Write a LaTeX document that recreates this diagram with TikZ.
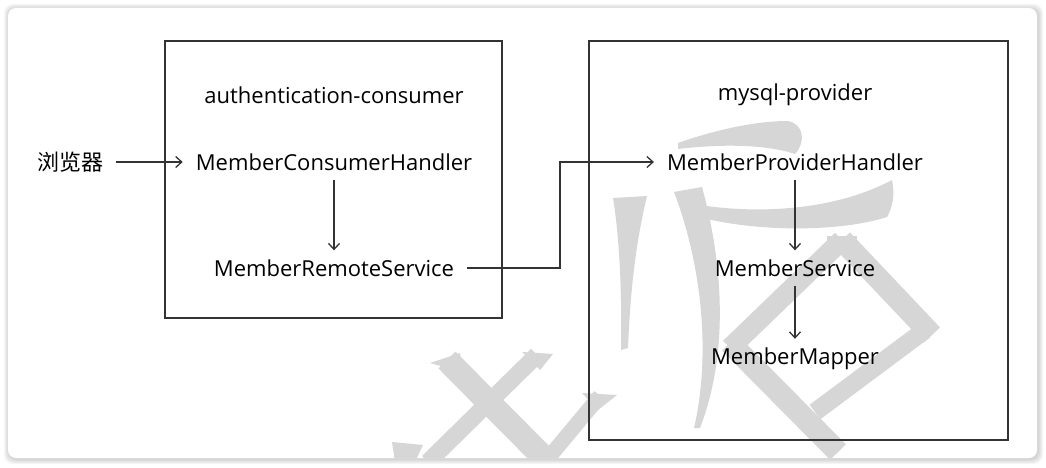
\documentclass[tikz,border=0pt]{standalone}
\usepackage{fontspec}
\setmainfont{Open Sans}
\newfontfamily\cjk{Noto Sans CJK SC}
\usetikzlibrary{arrows.meta}

\begin{document}
\begin{tikzpicture}[x=1pt, y=-1pt,
        txt/.style={inner xsep=13pt, inner ysep=9pt, font=\fontsize{22}{26}\selectfont, text=black},
        boxline/.style={draw=black!80, line width=1.4pt},
        link/.style={draw=black!80, line width=1.3pt, -{Straight Barb[length=6pt, width=11pt, line width=1.3pt]}},
        wm/.style={fill=black!16, draw=none},
        wmline/.style={draw=black!16, line cap=butt}]
    \useasboundingbox (0,0) rectangle (1046,468);

    \foreach \s in {1,...,5}
        \fill[black, opacity=0.035, rounded corners=9pt] (9-\s, 9-\s) rectangle (1038+\s, 459+\s);
    \fill[white, rounded corners=8pt] (8,8) rectangle (1037,458);

    \begin{scope}
        \clip[rounded corners=8pt] (8,8) rectangle (1037,458);
        \fill[wm] (678,143) .. controls (715,130) and (755,121) .. (788,121) .. controls (804,124) and (806,142) .. (795,154) .. controls (765,144) and (720,144) .. (678,149) -- cycle;
        \fill[wm] (613,198) -- (647,196) .. controls (634,250) and (630,300) .. (628,348) -- (621,350) .. controls (622,300) and (620,240) .. (613,198) -- cycle;
        \fill[wm] (674,192) -- (702,187) .. controls (722,260) and (730,350) .. (700,428) -- (694,428) .. controls (712,350) and (700,260) .. (674,192) -- cycle;
        \fill[wm] (700,205) .. controls (750,213) and (830,213) .. (892,180) .. controls (895,195) and (893,206) .. (887,217) .. controls (840,232) and (760,232) .. (703,218) -- cycle;
        \draw[wmline, line width=20pt] (842,240) -- (730,348);
        \draw[wmline, line width=22pt] (842,240) -- (932,335);
        \draw[wmline, line width=18pt] (925,330) -- (815,412);
        \draw[wmline, line width=22pt] (730,343) -- (838,452);
        \fill[wm] (827,236) rectangle (857,246);
        \draw[wmline, line width=24pt] (447,360) -- (548,462);
        \draw[wmline, line width=17pt] (537,355) -- (428,462);
        \draw[wmline, line width=15pt] (600,396) -- (545,462);
        \fill[wm] (430,363) -- (460,353) -- (462,372) -- cycle;
        \fill[wm] (522,352) -- (553,354) -- (540,370) -- cycle;
        \fill[wm] (582,393) -- (617,395) -- (598,410) -- cycle;
        \fill[wm] (392,442) -- (423,445) -- (415,462) -- (395,462) -- cycle;
    \end{scope}

    \draw[boxline] (165,41) rectangle (502,318);
    \draw[boxline] (589,41) rectangle (1008,440);

    \node[txt] (consumer) at (334,95) {authentication-consumer};
    \node[txt] (handler) at (334,162) {MemberConsumerHandler};
    \node[txt] (remote) at (334,268) {MemberRemoteService};
    \node[txt] (browser) at (70,162) {\cjk 浏览器};

    \node[txt] (provider) at (795,95) {mysql-provider};
    \node[txt] (phandler) at (795,162) {MemberProviderHandler};
    \node[txt] (service) at (795,268) {MemberService};
    \node[txt] (mapper) at (795,359) {MemberMapper};

    \coordinate (bend) at (560,268);

    \path[link] (browser) edge (handler);
    \path[link] (handler) edge (remote);
    \draw[link] (remote) -- (bend) |- (phandler);
    \path[link] (phandler) edge (service);
    \path[link] (service) edge (mapper);
\end{tikzpicture}
\end{document}
